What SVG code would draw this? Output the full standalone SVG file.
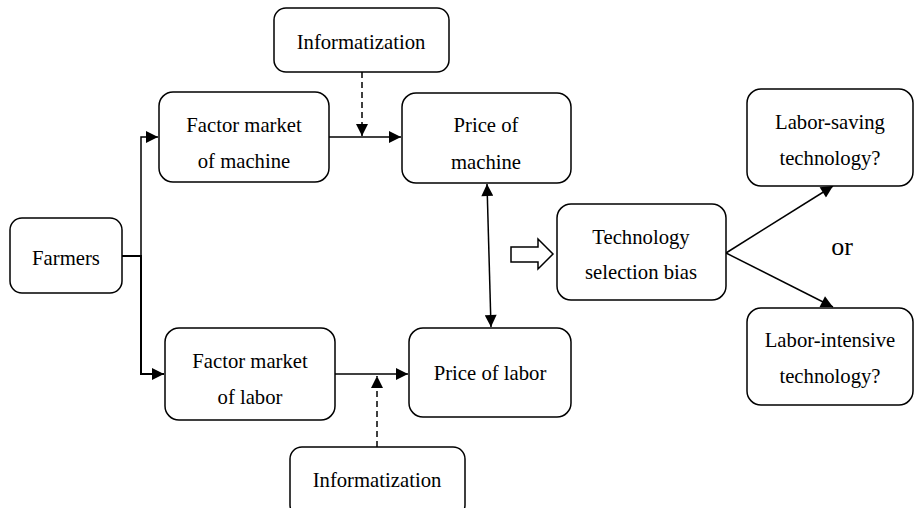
<svg xmlns="http://www.w3.org/2000/svg" width="915" height="508" viewBox="0 0 915 508">
<style>
.box{fill:#fff;stroke:#000;stroke-width:1.5}
.t{font-family:'Liberation Serif','DejaVu Serif',serif;font-size:20.7px;fill:#000;text-anchor:middle}
.ln{fill:none;stroke:#000;stroke-width:1.5}
.ds{fill:none;stroke:#000;stroke-width:1.5;stroke-dasharray:6,4}
</style>
<defs>
<marker id="ah" viewBox="0 0 10 10" refX="10" refY="5" markerWidth="13" markerHeight="12" markerUnits="userSpaceOnUse" orient="auto-start-reverse">
<path d="M0,0 L10,5 L0,10 z" fill="#000"/>
</marker>
</defs>
<g id="connectors">
<path class="ln" d="M122,256 H141 V137 H158" marker-end="url(#ah)"/>
<path class="ln" style="stroke-width:2" d="M122,256 H141 V374 H164" marker-end="url(#ah)"/>
<path class="ln" d="M329,137 H401" marker-end="url(#ah)"/>
<path class="ds" d="M362,72 V136" marker-end="url(#ah)"/>
<path class="ln" d="M335,374 H408" marker-end="url(#ah)"/>
<path class="ds" d="M377,447 V376" marker-end="url(#ah)"/>
<path class="ln" d="M487,184 L491,327" marker-start="url(#ah)" marker-end="url(#ah)"/>
<path class="ln" d="M511,247 H538 V239 L553,254 L538,269 V262 H511 Z"/>
<path class="ln" d="M726,253 L833,186" marker-end="url(#ah)"/>
<path class="ln" d="M726,253 L833,307" marker-end="url(#ah)"/>
</g>
<g id="farmers"><rect class="box" x="10" y="218" width="112" height="75" rx="12"/><text class="t" x="66" y="265">Farmers</text></g>
<g id="fm-machine"><rect class="box" x="159" y="92" width="170" height="90" rx="14"/><text class="t" x="244" y="132">Factor market</text><text class="t" x="244" y="168">of machine</text></g>
<g id="info-top"><rect class="box" x="274" y="8" width="175" height="64" rx="12"/><text class="t" x="361" y="49">Informatization</text></g>
<g id="price-machine"><rect class="box" x="402" y="93" width="169" height="90" rx="14"/><text class="t" x="486" y="132">Price of</text><text class="t" x="486" y="169">machine</text></g>
<g id="fm-labor"><rect class="box" x="165" y="328" width="170" height="92" rx="14"/><text class="t" x="250" y="368">Factor market</text><text class="t" x="250" y="404">of labor</text></g>
<g id="price-labor"><rect class="box" x="409" y="328" width="162" height="89" rx="14"/><text class="t" x="490" y="380">Price of labor</text></g>
<g id="info-bottom"><rect class="box" x="290" y="447" width="175" height="70" rx="12"/><text class="t" x="377" y="487">Informatization</text></g>
<g id="tech-bias"><rect class="box" x="557" y="204" width="169" height="96" rx="14"/><text class="t" x="641" y="244">Technology</text><text class="t" x="641" y="279">selection bias</text></g>
<g id="labor-saving"><rect class="box" x="747" y="89" width="166" height="97" rx="14"/><text class="t" x="830" y="129">Labor-saving</text><text class="t" x="830" y="165">technology?</text></g>
<g id="labor-intensive"><rect class="box" x="747" y="308" width="166" height="97" rx="14"/><text class="t" x="830" y="347">Labor-intensive</text><text class="t" x="830" y="383">technology?</text></g>
<text class="t" x="842" y="255" style="font-size:26px">or</text>
</svg>
